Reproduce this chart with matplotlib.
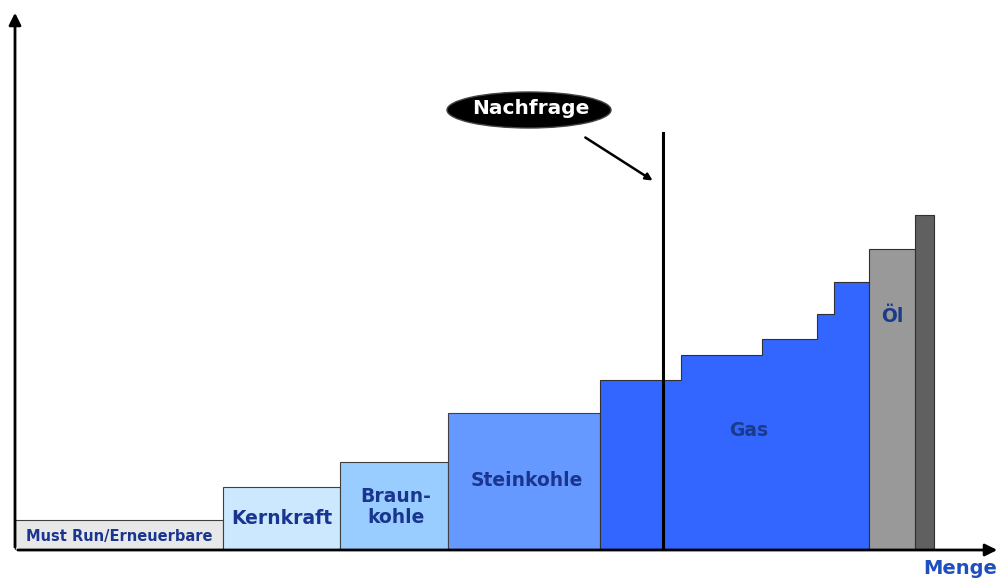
import matplotlib.pyplot as plt
from matplotlib.patches import Ellipse
import numpy as np

# merit order: capacity (width) and cost (height) of each block
blocks = ['Must Run/Erneuerbare', 'Kernkraft', 'Braun-\nkohle', 'Steinkohle']
block_cap = [208, 117, 108, 152]
block_cost = [30, 63, 88, 137]
block_colors = ['#e8e8e8', '#cce8ff', '#99ccff', '#6699ff']

gas_cap = [81, 81, 55, 17, 35]
gas_cost = [170, 195, 211, 236, 268]

oil_cap = [46, 19]
oil_cost = [301, 335]
oil_colors = ['#999999', '#606060']

demand = 648
text_col = '#1a3590'

fig = plt.figure(figsize=(10, 5.78), dpi=100)
ax = fig.add_axes([0.015, 28 / 578, 0.985, 540 / 578])
ax.set_xlim(0, 985)
ax.set_ylim(0, 540)
ax.axis('off')

x0 = 0
for name, w, h, c in zip(blocks, block_cap, block_cost, block_colors):
    ax.bar(x0, h, width=w, align='edge', color=c, edgecolor='#404040', linewidth=0.8)
    x0 += w

edges = x0 + np.concatenate([[0], np.cumsum(gas_cap)])
ax.stairs(gas_cost, edges, baseline=0, fill=True, facecolor='#3366ff',
          edgecolor='#303030', linewidth=0.8)
x0 = edges[-1]
for w, h, c in zip(oil_cap, oil_cost, oil_colors):
    ax.bar(x0, h, width=w, align='edge', color=c, edgecolor='#303030', linewidth=0.8)
    x0 += w

# labels
ax.text(104, 13, blocks[0], ha='center', va='center', fontsize=10.5,
        fontweight='bold', color=text_col)
ax.text(267, 32, 'Kernkraft', ha='center', va='center', fontsize=13.5,
        fontweight='bold', color=text_col)
ax.text(381, 43, 'Braun-\nkohle', ha='center', va='center', fontsize=13.5,
        fontweight='bold', color=text_col, linespacing=1.15)
ax.text(512, 70, 'Steinkohle', ha='center', va='center', fontsize=13.5,
        fontweight='bold', color=text_col)
ax.text(734, 119, 'Gas', ha='center', va='center', fontsize=13.5,
        fontweight='bold', color='#1a3a8a')
ax.text(877, 234, 'Öl', ha='center', va='center', fontsize=13.5,
        fontweight='bold', color='#1a3a8a')

# demand line and callout
ax.plot([demand, demand], [0, 417], color='black', linewidth=2.2)
ax.add_patch(Ellipse((514, 440), 164, 36, facecolor='black', edgecolor='#444444'))
ax.text(516, 441, 'Nachfrage', ha='center', va='center', fontsize=14.5,
        fontweight='bold', color='white')
ax.annotate('', xy=(640, 368), xytext=(568, 414),
            arrowprops=dict(arrowstyle='-|>', color='black', lw=1.8, mutation_scale=10))

# axes arrows
ax.annotate('', xy=(0, 540), xytext=(0, 0), annotation_clip=False,
            arrowprops=dict(arrowstyle='-|>', color='black', lw=2, mutation_scale=18))
ax.annotate('', xy=(985, 0), xytext=(0, 0), annotation_clip=False,
            arrowprops=dict(arrowstyle='-|>', color='black', lw=2, mutation_scale=18))
ax.text(945, -18, 'Menge', ha='center', va='center', fontsize=14,
        fontweight='bold', color='#1f4fbf', clip_on=False)

fig.savefig('out.png', dpi=100)
